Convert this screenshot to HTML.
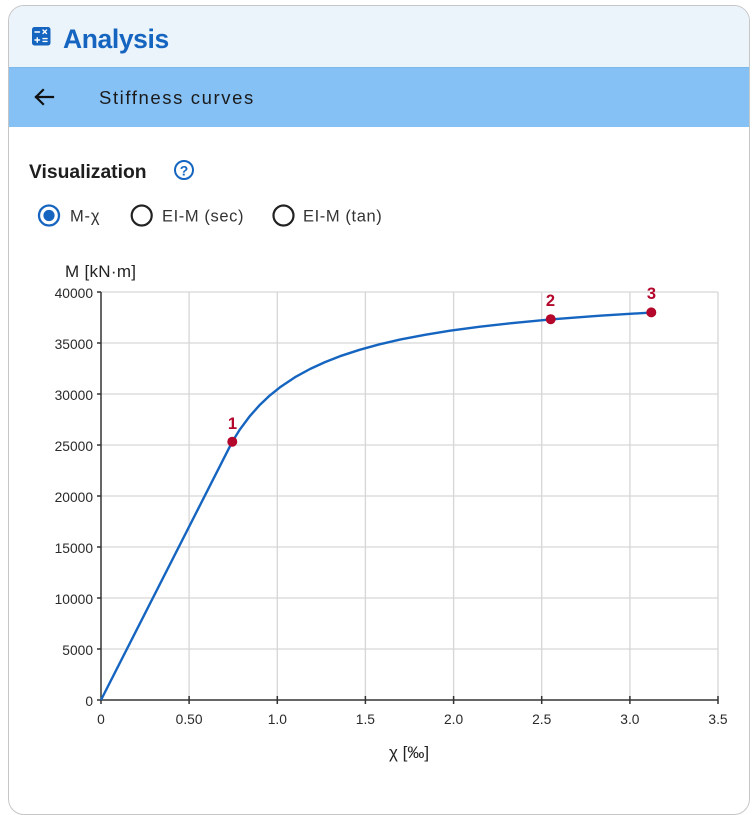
<!DOCTYPE html>
<html><head><meta charset="utf-8"><style>
html,body{margin:0;padding:0;background:#fff;width:756px;height:815px;overflow:hidden;font-family:"Liberation Sans",sans-serif}
.card{position:absolute;left:8px;top:5px;width:740px;height:808px;border:1px solid #c6c6c6;border-radius:16px;overflow:hidden;background:#fff}
.hdr{position:absolute;left:0;top:0;width:740px;height:61px;background:#ebf3fb}
.bar{position:absolute;left:0;top:61px;width:740px;height:60px;background:#85c1f5;border-top:1px solid #7db8ec;box-sizing:border-box}
</style></head><body>
<div class="card">
 <div class="hdr"></div>
 <div class="bar"></div>
</div>
<svg style="position:absolute;left:0;top:0" width="756" height="815" viewBox="0 0 756 815">
 <rect x="32" y="27" width="18.5" height="18.5" rx="2.5" fill="#1565c0"/>
 <g stroke="#fff" stroke-width="1.4" stroke-linecap="round">
  <line x1="35" y1="32" x2="39.5" y2="32"/>
  <line x1="43" y1="30" x2="46.5" y2="33.5"/><line x1="46.5" y1="30" x2="43" y2="33.5"/>
  <line x1="35" y1="40" x2="39.5" y2="40"/><line x1="37.25" y1="37.8" x2="37.25" y2="42.2"/>
  <line x1="43" y1="38.6" x2="47" y2="38.6"/><line x1="43" y1="41.4" x2="47" y2="41.4"/>
 </g>
 <text x="63" y="48" font-family="Liberation Sans" font-weight="bold" font-size="26.5" fill="#1565c0" letter-spacing="-0.4">Analysis</text>
 <g stroke="#111" stroke-width="2.2" fill="none" stroke-linecap="square">
  <line x1="36" y1="97" x2="53" y2="97"/>
  <polyline points="43,90 36,97 43,104" stroke-linejoin="miter"/>
 </g>
 <text x="99" y="104" font-family="Liberation Sans" font-size="18.5" fill="#1b1b1b" letter-spacing="1.6">Stiffness curves</text>
 <text x="29" y="178" font-family="Liberation Sans" font-weight="bold" font-size="19.3" fill="#1e1e1e">Visualization</text>
 <circle cx="184" cy="170" r="9" fill="none" stroke="#1565c0" stroke-width="2"/>
 <text x="184" y="175.5" text-anchor="middle" font-family="Liberation Sans" font-weight="bold" font-size="14" fill="#1565c0">?</text>
 <circle cx="49" cy="215.5" r="10" fill="none" stroke="#1565c0" stroke-width="2.3"/>
 <circle cx="49" cy="215.5" r="5.6" fill="#1565c0"/>
 <text x="70" y="221.5" font-family="Liberation Sans" font-size="16.5" fill="#333" letter-spacing="0.8">M-χ</text>
 <circle cx="141.7" cy="215.5" r="10" fill="none" stroke="#222" stroke-width="2.2"/>
 <text x="162" y="221.5" font-family="Liberation Sans" font-size="16.5" fill="#333" letter-spacing="0.6">EI-M (sec)</text>
 <circle cx="283.5" cy="215.5" r="10" fill="none" stroke="#222" stroke-width="2.2"/>
 <text x="303" y="221.5" font-family="Liberation Sans" font-size="16.5" fill="#333" letter-spacing="0.6">EI-M (tan)</text>

 <text x="65" y="277" font-family="Liberation Sans" font-size="17" fill="#222" letter-spacing="0.3">M [kN·m]</text>
 <g stroke="#d6d6d6" stroke-width="1.3">
  <line x1="101" y1="292" x2="718" y2="292"/>
  <line x1="101" y1="343" x2="718" y2="343"/>
  <line x1="101" y1="394" x2="718" y2="394"/>
  <line x1="101" y1="445" x2="718" y2="445"/>
  <line x1="101" y1="496" x2="718" y2="496"/>
  <line x1="101" y1="547" x2="718" y2="547"/>
  <line x1="101" y1="598" x2="718" y2="598"/>
  <line x1="101" y1="649" x2="718" y2="649"/>
  <line x1="189.1" y1="292" x2="189.1" y2="700"/>
  <line x1="277.3" y1="292" x2="277.3" y2="700"/>
  <line x1="365.4" y1="292" x2="365.4" y2="700"/>
  <line x1="453.6" y1="292" x2="453.6" y2="700"/>
  <line x1="541.7" y1="292" x2="541.7" y2="700"/>
  <line x1="629.9" y1="292" x2="629.9" y2="700"/>
  <line x1="718" y1="292" x2="718" y2="700"/>
 </g>
 <g stroke="#333" stroke-width="1.5">
  <line x1="101" y1="292" x2="101" y2="700"/>
  <line x1="101" y1="700" x2="718" y2="700"/>
  <line x1="97" y1="292" x2="101" y2="292"/><line x1="97" y1="343" x2="101" y2="343"/>
  <line x1="97" y1="394" x2="101" y2="394"/><line x1="97" y1="445" x2="101" y2="445"/>
  <line x1="97" y1="496" x2="101" y2="496"/><line x1="97" y1="547" x2="101" y2="547"/>
  <line x1="97" y1="598" x2="101" y2="598"/><line x1="97" y1="649" x2="101" y2="649"/>
  <line x1="97" y1="700" x2="101" y2="700"/>
  <line x1="101" y1="700" x2="101" y2="704"/><line x1="189.1" y1="696" x2="189.1" y2="704"/>
  <line x1="277.3" y1="696" x2="277.3" y2="704"/><line x1="365.4" y1="696" x2="365.4" y2="704"/>
  <line x1="453.6" y1="696" x2="453.6" y2="704"/><line x1="541.7" y1="696" x2="541.7" y2="704"/>
  <line x1="629.9" y1="696" x2="629.9" y2="704"/><line x1="718" y1="696" x2="718" y2="704"/>
 </g>
 <g font-family="Liberation Sans" font-size="13.8" fill="#2a2a2a" text-anchor="end">
  <text x="93" y="298">40000</text>
  <text x="93" y="349">35000</text>
  <text x="93" y="400">30000</text>
  <text x="93" y="451">25000</text>
  <text x="93" y="502">20000</text>
  <text x="93" y="553">15000</text>
  <text x="93" y="604">10000</text>
  <text x="93" y="655">5000</text>
  <text x="93" y="706">0</text>
 </g>
 <g font-family="Liberation Sans" font-size="13.8" fill="#2a2a2a" text-anchor="middle">
  <text x="101" y="724">0</text>
  <text x="189.1" y="724">0.50</text>
  <text x="277.3" y="724">1.0</text>
  <text x="365.4" y="724">1.5</text>
  <text x="453.6" y="724">2.0</text>
  <text x="541.7" y="724">2.5</text>
  <text x="629.9" y="724">3.0</text>
  <text x="718" y="724">3.5</text>
 </g>
 <text x="409" y="758" text-anchor="middle" font-family="Liberation Sans" font-size="17" fill="#222">χ [‰]</text>

 <polyline points="101,700 232.3,441.7 240,429.3 250,415.9 260,404.7 270,395.3 280,387.3 295,377.2 310,369.0 325,362.1 340,356.2 360,349.7 380,344.2 400,339.6 425,334.8 450,330.7 480,326.7 510,323.3 540,320.4 550.7,319.4 570,317.9 600,315.7 630,313.8 651.3,312.6" fill="none" stroke="#1565c0" stroke-width="2.4" stroke-linejoin="round"/>

 <g fill="#b3072b">
  <circle cx="232.3" cy="441.7" r="5"/>
  <circle cx="550.7" cy="319.2" r="5"/>
  <circle cx="651.3" cy="312.4" r="5"/>
 </g>
 <g font-family="Liberation Sans" font-weight="bold" font-size="16.5" fill="#b3072b" text-anchor="middle">
  <text x="232.5" y="429">1</text>
  <text x="550.5" y="306">2</text>
  <text x="651.5" y="299">3</text>
 </g>
</svg>
</body></html>
